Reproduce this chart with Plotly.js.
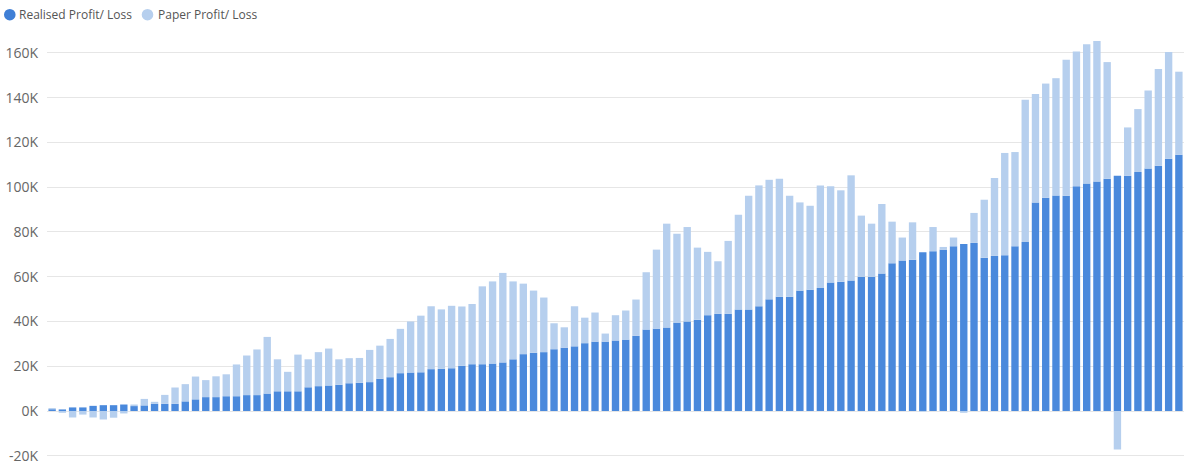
<!DOCTYPE html>
<html>
<head>
<meta charset="utf-8">
<script src="https://cdn.plot.ly/plotly-3.0.1.min.js"></script>
<style>html,body{margin:0;padding:0;background:#fff;}#chart{width:1188px;height:466px;}</style>
</head>
<body>
<div id="chart"></div>
<script>
// Values in thousands
const realised = [0.8,0.7,1.6,1.6,2.3,2.6,2.6,2.9,2.2,2.5,
3.2,3.2,3.2,4.3,5.2,6.2,6.2,6.6,6.6,7.1,
7.1,7.8,8.8,8.8,8.8,10.6,11.1,11.4,11.7,12.4,
12.6,12.9,14.4,15.1,16.9,17.2,17.3,18.7,18.8,19.1,
20.2,20.9,20.9,21.2,21.7,23.1,25.4,26.0,26.3,27.6,
28.3,28.9,30.3,31.0,31.0,31.5,31.9,33.6,36.4,36.8,
37.3,39.5,40.0,40.8,42.8,43.4,43.4,45.3,45.3,46.8,
49.9,51.1,51.1,53.8,54.2,55.0,57.4,57.8,58.3,60.0,
60.0,61.4,66.0,67.2,67.6,70.9,71.4,72.0,73.6,74.6,
75.1,68.5,69.3,69.6,73.6,75.5,93.2,95.3,96.3,96.2,
100.4,101.6,102.5,103.8,105.1,105.1,106.8,108.3,109.6,112.7,
114.5];
const paper = [0.5,-0.8,-2.9,-1.6,-2.9,-3.8,-3.0,-1.1,0.7,2.9,
0.9,4.0,7.3,7.7,10.2,7.6,9.3,9.8,14.2,17.7,
20.4,25.3,14.3,8.7,16.4,12.5,15.2,16.5,11.4,11.2,
11.1,14.4,14.8,17.1,19.8,22.8,25.3,28.1,26.6,27.9,
26.5,26.9,34.8,36.7,40.0,34.8,31.5,27.8,24.4,11.6,
9.1,17.9,11.4,13.0,3.6,11.3,13.0,16.2,25.6,35.3,
46.4,39.7,42.2,32.2,28.3,23.5,32.6,42.4,50.9,54.0,
53.4,52.7,45.1,39.4,37.5,45.7,43.0,40.8,47.0,27.3,
23.7,31.1,18.6,10.3,16.7,-0.3,10.8,1.3,3.9,-0.8,
13.4,25.9,34.8,45.7,42.1,63.6,48.4,51.0,52.4,60.7,
60.2,62.3,62.8,52.1,-17.2,21.6,28.1,34.9,43.2,47.7,
37.1];
const seriesNames = ["Realised Profit/ Loss", "Paper Profit/ Loss"];
const tickVals = [-20000,0,20000,40000,60000,80000,100000,120000,140000,160000];
const tickText = ["-20K","0K","20K","40K","60K","80K","100K","120K","140K","160K"];
const periods = realised.map((_, i) => i);

const darkColor = "#4a89dc";
const lightColor = "#b6cfee";

const traces = [
  {type:"bar", name:seriesNames[0], x:periods, y:realised.map(v=>v*1000),
   marker:{color:darkColor}, showlegend:false, hoverinfo:"y"},
  {type:"bar", name:seriesNames[1], x:periods, y:paper.map(v=>v*1000),
   marker:{color:lightColor}, showlegend:false, hoverinfo:"y"}
];

const W = 1188, H = 466, ml = 47, mr = 4, mt = 35, mb = 8;
const pw = W - ml - mr, ph = H - mt - mb;
const px = x => (x - ml) / pw;
const py = y => (H - mb - y) / ph;

const layout = {
  width: W, height: H,
  margin: {l: ml, r: mr, t: mt, b: mb},
  paper_bgcolor: "#fff", plot_bgcolor: "#fff",
  barmode: "relative",
  bargap: 0.28,
  showlegend: false,
  font: {family: "'Open Sans', 'Noto Sans', sans-serif", color: "#666"},
  xaxis: {type: "linear", range: [-0.5, realised.length - 0.5], showticklabels: false,
          showgrid: false, zeroline: false, showline: false, ticks: "", fixedrange: true},
  yaxis: {range: [-21000, 168000], tickvals: tickVals, ticktext: tickText,
          showgrid: true, gridcolor: "#e6e6e6", gridwidth: 1, zeroline: false,
          showline: false, ticks: "", ticklabelstandoff: 8,
          tickfont: {size: 14, color: "#666"}, fixedrange: true},
  shapes: [
    {type:"circle", xref:"paper", yref:"paper", xsizemode:"pixel", ysizemode:"pixel",
     xanchor: px(9.8), yanchor: py(14.7), x0:-5.8, x1:5.8, y0:-5.8, y1:5.8,
     fillcolor: "#3f7fd6", line:{width:0}},
    {type:"circle", xref:"paper", yref:"paper", xsizemode:"pixel", ysizemode:"pixel",
     xanchor: px(147.5), yanchor: py(14.7), x0:-5.8, x1:5.8, y0:-5.8, y1:5.8,
     fillcolor: lightColor, line:{width:0}}
  ],
  annotations: [
    {xref:"paper", yref:"paper", x: px(17), y: py(14.7), xanchor:"left", yanchor:"middle",
     text: seriesNames[0], showarrow:false, font:{size:12, color:"#555"}},
    {xref:"paper", yref:"paper", x: px(155.5), y: py(14.7), xanchor:"left", yanchor:"middle",
     text: seriesNames[1], showarrow:false, font:{size:12, color:"#555"}}
  ]
};

Plotly.newPlot("chart", traces, layout, {displayModeBar: false, staticPlot: true});
</script>
</body>
</html>
